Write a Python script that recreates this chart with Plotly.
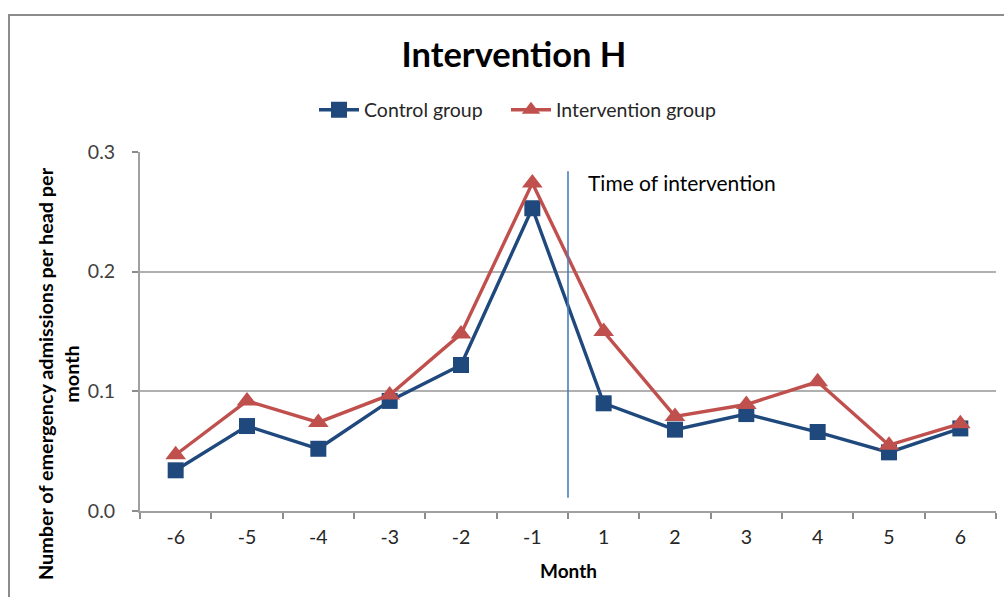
import plotly.graph_objects as go

months = ["-6", "-5", "-4", "-3", "-2", "-1", "1", "2", "3", "4", "5", "6"]
control = [0.034, 0.071, 0.052, 0.092, 0.122, 0.253, 0.090, 0.068, 0.081, 0.066, 0.049, 0.069]
intervention = [0.047, 0.092, 0.074, 0.097, 0.148, 0.274, 0.150, 0.079, 0.089, 0.108, 0.055, 0.073]
yticks = [0.0, 0.1, 0.2, 0.3]
ytick_text = ["0.0", "0.1", "0.2", "0.3"]
intervention_at = 5.5          # boundary between month -1 and month 1 (category index)
intervention_line_y = [0.011, 0.284]

W, H = 1004, 597
L, R, T, B = 140, 1004 - 996, 152, 597 - 511
PW, PH = W - L - R, H - T - B
FONT = "Lato"

def px(x):
    return (x - L) / PW

def py(y):
    return (H - B - y) / PH

fig = go.Figure()
fig.add_trace(go.Scatter(
    x=months, y=control, name="Control group", mode="lines+markers",
    line=dict(color="#1F497D", width=3.4),
    marker=dict(symbol="square", size=16, color="#1F497D"),
    legend="legend",
))
fig.add_trace(go.Scatter(
    x=months, y=intervention, name="Intervention group", mode="lines+markers",
    line=dict(color="#C0504D", width=3.4),
    marker=dict(symbol="triangle-up", size=18, color="#C0504D"),
    legend="legend2",
))

fig.add_shape(type="line", xref="x", yref="y",
              x0=intervention_at, x1=intervention_at,
              y0=intervention_line_y[0], y1=intervention_line_y[1],
              line=dict(color="#4A7EBB", width=1.6))

# chart border
fig.add_shape(type="rect", xref="paper", yref="paper",
              x0=px(9), x1=px(1010), y0=py(605), y1=py(15),
              line=dict(color="#8C8C8C", width=2), layer="below")

fig.add_annotation(text="Time of intervention", xref="paper", yref="paper",
                   x=px(586), y=py(182), xanchor="left", yanchor="middle",
                   showarrow=False, font=dict(family=FONT, size=21, color="#000000"))

fig.add_annotation(text="Number of emergency admissions per head per<br>month",
                   xref="paper", yref="paper", x=px(58), y=py(374),
                   xanchor="center", yanchor="middle", textangle=-90,
                   showarrow=False,
                   font=dict(family=FONT, size=19.8, color="#000000", weight="bold"))

fig.add_annotation(text="Month", xref="paper", yref="paper",
                   x=px(568), y=py(570), xanchor="center", yanchor="middle",
                   showarrow=False,
                   font=dict(family=FONT, size=19, color="#000000", weight="bold"))

legend_common = dict(orientation="h", xanchor="left", y=py(110), yanchor="middle",
                     font=dict(family=FONT, size=19.5, color="#262626"),
                     itemwidth=40, bgcolor="rgba(0,0,0,0)")

fig.update_layout(
    width=W, height=H,
    margin=dict(l=L, r=R, t=T, b=B, pad=0),
    paper_bgcolor="white", plot_bgcolor="white",
    title=dict(text="<b>Intervention H</b>", xref="container", x=514 / W,
               xanchor="center", y=1 - 55 / H, yanchor="middle",
               font=dict(family=FONT, size=34.5, color="#000000")),
    legend=dict(x=px(314), **legend_common),
    legend2=dict(x=px(506), **legend_common),
    showlegend=True,
    xaxis=dict(
        type="category", range=[-0.5, 11.5], tickson="boundaries",
        ticks="outside", ticklen=6, tickcolor="#8C8C8C", tickwidth=1.5,
        showline=True, linecolor="#A0A0A0", linewidth=2,
        showgrid=False, zeroline=False,
        tickfont=dict(family=FONT, size=19.5, color="#262626"),
        ticklabelstandoff=8,
    ),
    yaxis=dict(
        range=[0, 0.3], tickvals=yticks, ticktext=ytick_text,
        ticks="outside", ticklen=6, tickcolor="#8C8C8C", tickwidth=1.5,
        showline=True, linecolor="#A0A0A0", linewidth=2,
        showgrid=True, gridcolor="#B0B0B0", gridwidth=1.5,
        zeroline=False,
        tickfont=dict(family=FONT, size=19.5, color="#404040"),
        ticklabelstandoff=13,
    ),
)

fig.write_html("out.html")
